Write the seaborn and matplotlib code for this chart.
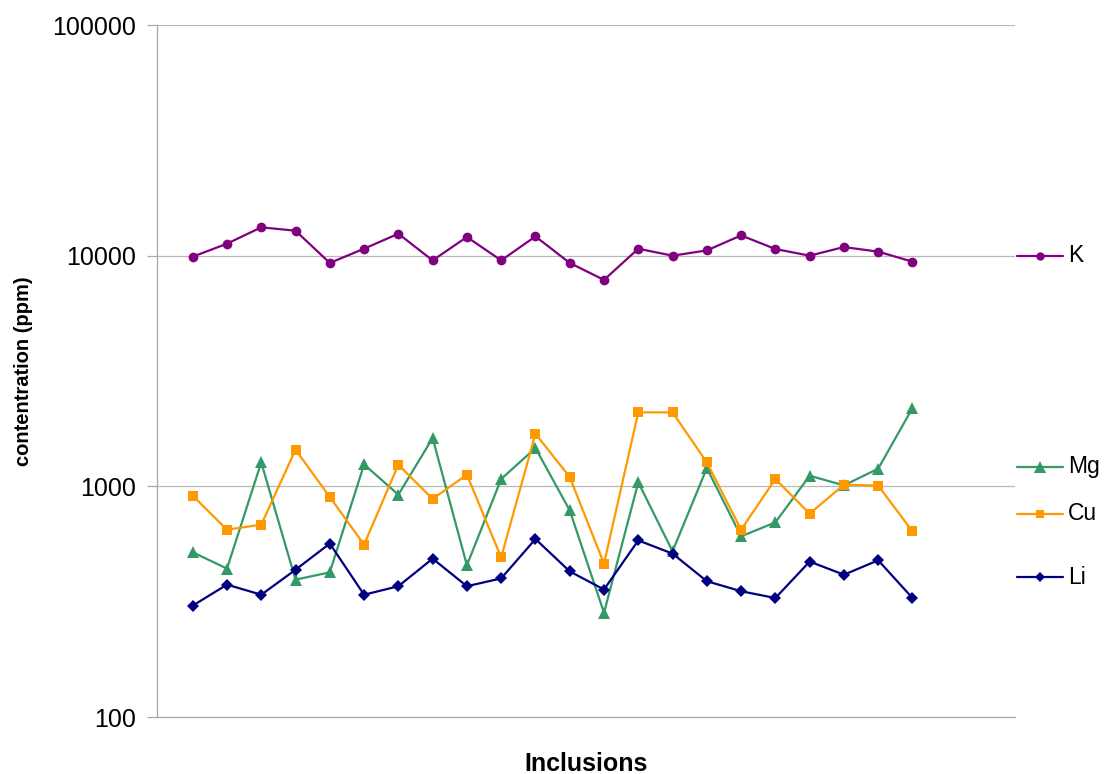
import numpy as np
import pandas as pd
import matplotlib
matplotlib.use("Agg")
import matplotlib.pyplot as plt
import seaborn as sns
from matplotlib.lines import Line2D

# values (ppm), inclusion 1..22
inclusion = list(range(1, 23))
K = [9900, 11270, 13270, 12830, 9300, 10720, 12450, 9540, 12050, 9540, 12120,
     9300, 7850, 10720, 10000, 10540, 12240, 10690, 10000, 10900, 10410, 9420]
Mg = [518, 440, 1270, 394, 424, 1245, 920, 1620, 455, 1076, 1466,
      787, 283, 1041, 523, 1200, 607, 698, 1112, 1010, 1193, 2185]
Cu = [911, 649, 682, 1442, 899, 559, 1241, 882, 1123, 492, 1691,
      1098, 462, 2093, 2093, 1270, 649, 1076, 761, 1017, 1007, 638]
Li = [304, 375, 339, 435, 565, 339, 369, 486, 369, 399, 591,
      428, 357, 583, 511, 388, 351, 328, 472, 414, 478, 328]

series = {"K": K, "Mg": Mg, "Cu": Cu, "Li": Li}
colors = {"K": "#800080", "Mg": "#339966", "Cu": "#FF9900", "Li": "#000080"}
markers = {"K": "o", "Mg": "^", "Cu": "s", "Li": "D"}
msizes = {"K": 7, "Mg": 9, "Cu": 7, "Li": 6}

rows = []
for name, vals in series.items():
    for i, v in zip(inclusion, vals):
        rows.append({"inclusion": i, "ppm": v, "element": name})
df = pd.DataFrame(rows)

sns.set_style("white")
plt.rcParams["font.family"] = ["Liberation Sans", "DejaVu Sans"]
plt.rcParams["text.color"] = "black"
plt.rcParams["axes.labelcolor"] = "black"
plt.rcParams["ytick.labelcolor"] = "black"

fig = plt.figure(figsize=(11.06, 7.74), dpi=100)
ax = fig.add_axes([0.142, 0.0736, 0.776, 0.8941])

for name in series:
    sub = df[df["element"] == name]
    sns.lineplot(data=sub, x="inclusion", y="ppm", ax=ax, color=colors[name],
                 marker=markers[name], markersize=msizes[name], markeredgewidth=0,
                 linewidth=1.6, legend=False)

ax.set_yscale("log")
ax.set_ylim(100, 100000)
ax.set_xlim(-0.04, 25)
ax.set_yticks([100, 1000, 10000, 100000])
ax.set_yticklabels(["100", "1000", "10000", "100000"])
ax.yaxis.set_minor_locator(matplotlib.ticker.NullLocator())
ax.set_xticks([])
ax.grid(axis="y", color="#b8b8b8", linewidth=0.9)
ax.set_axisbelow(True)
for s in ["top", "right"]:
    ax.spines[s].set_visible(False)
for s in ["left", "bottom"]:
    ax.spines[s].set_color("#a8a8a8")
    ax.spines[s].set_linewidth(0.9)
ax.tick_params(axis="y", which="major", length=7, color="#a8a8a8", width=0.9,
               labelsize=18, pad=8, left=True, labelcolor="black")

ax.set_xlabel("Inclusions", fontsize=18, fontweight="bold", labelpad=25, color="black")
ax.set_ylabel("contentration (ppm)", fontsize=14.5, fontweight="bold", color="black")
ax.yaxis.set_label_coords(-0.144, 0.5)

# legend entries placed beside the plot, Excel style
W, H = 1106, 774
legend_y = {"K": 256, "Mg": 467, "Cu": 514, "Li": 577}
for name, yp in legend_y.items():
    yf = 1 - yp / H
    fig.add_artist(Line2D([1017 / W, 1063 / W], [yf, yf], color=colors[name],
                          linewidth=1.6, transform=fig.transFigure))
    fig.add_artist(Line2D([1040 / W], [yf], color=colors[name], marker=markers[name],
                          markersize=msizes[name] - 1, markeredgewidth=0,
                          transform=fig.transFigure))
    fig.text(1068 / W, yf, name, fontsize=16.5, va="center", ha="left", color="black")

fig.savefig("out.png", dpi=100)
